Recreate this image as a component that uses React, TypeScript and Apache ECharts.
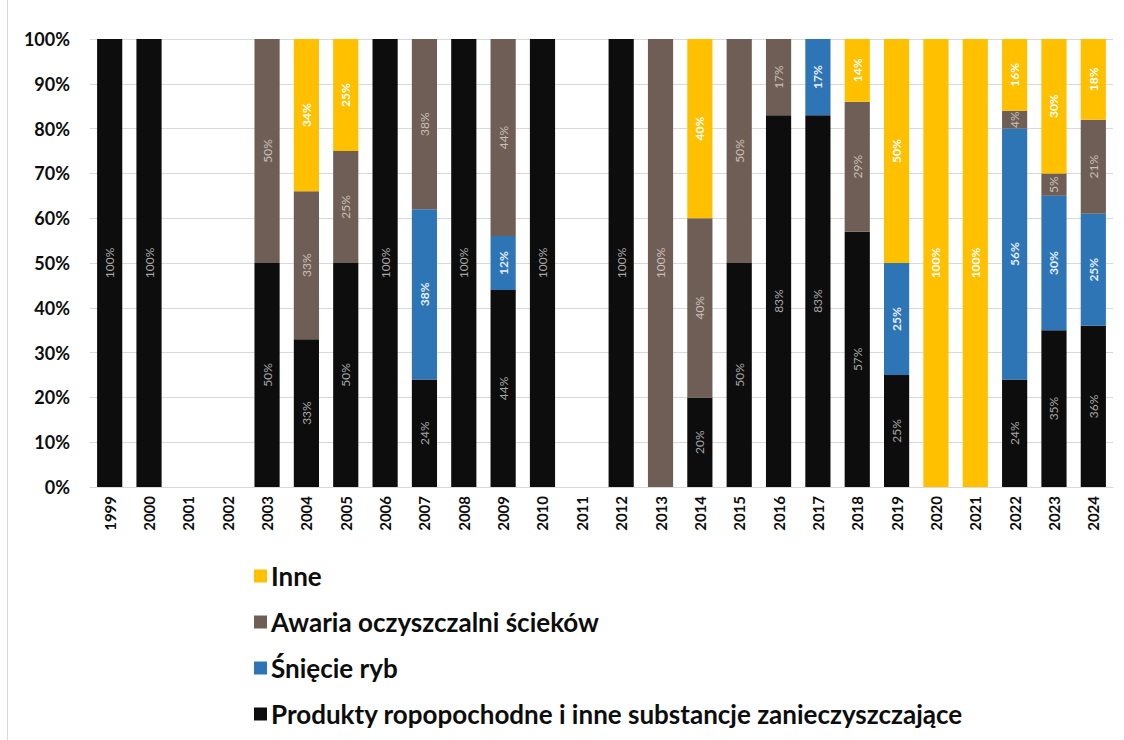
import React, { useEffect, useRef } from "react";
import * as echarts from "echarts";

const years = ["1999","2000","2001","2002","2003","2004","2005","2006","2007","2008","2009","2010","2011","2012","2013","2014","2015","2016","2017","2018","2019","2020","2021","2022","2023","2024"];
const produkty = [100,100,0,0,50,33,50,100,24,100,44,100,0,100,0,20,50,83,83,57,25,0,0,24,35,36];
const sniecie = [0,0,0,0,0,0,0,0,38,0,12,0,0,0,0,0,0,0,17,0,25,0,0,56,30,25];
const awaria = [0,0,0,0,50,33,25,0,38,0,44,0,0,0,100,40,50,17,0,29,0,0,0,4,5,21];
const inne = [0,0,0,0,0,34,25,0,0,0,0,0,0,0,0,40,0,0,0,14,50,100,100,16,30,18];

const FONT = "Lato";

export default function App() {
  const ref = useRef<HTMLDivElement>(null);
  useEffect(() => {
    if (!ref.current) return;
    const chart = echarts.init(ref.current, null, { renderer: "svg" });
    const mk = (name: string, data: number[], color: string, labelColor: string, weight: string) => ({
      name,
      type: "bar",
      stack: "total",
      barCategoryGap: "36%",
      data: data.map((v) => (v === 0 ? null : v)),
      itemStyle: { color },
      label: {
        show: true,
        position: "inside",
        rotate: 90,
        color: labelColor,
        fontFamily: FONT,
        fontWeight: weight,
        fontSize: 12,
        formatter: (p: any) => (p.value ? p.value + "%" : ""),
      },
    });
    chart.setOption({
      animation: false,
      grid: { left: 90, right: 11, top: 39, bottom: 253, containLabel: false },
      legend: {
        orient: "vertical",
        left: 249,
        top: 558,
        itemGap: 20,
        itemWidth: 13,
        itemHeight: 13,
        icon: "rect",
        data: ["Inne", "Awaria oczyszczalni ścieków", "Śnięcie ryb", "Produkty ropopochodne i inne substancje zanieczyszczające"],
        textStyle: { fontFamily: FONT, fontWeight: "bold", fontSize: 26, lineHeight: 26, color: "#0d0d0d", padding: [0, 0, 0, -1] },
      },
      xAxis: {
        type: "category",
        data: years,
        axisTick: { show: false },
        axisLine: { lineStyle: { color: "#d9d9d9" } },
        axisLabel: {
          rotate: 90,
          margin: 9,
          fontFamily: FONT,
          fontWeight: "bold",
          fontSize: 15,
          color: "#0d0d0d",
          interval: 0,
        },
      },
      yAxis: {
        type: "value",
        min: 0,
        max: 100,
        interval: 10,
        axisLine: { show: false },
        axisTick: { show: false },
        splitLine: { lineStyle: { color: "#d9d9d9", width: 1 } },
        axisLabel: {
          formatter: "{value}%",
          fontFamily: FONT,
          fontWeight: "bold",
          fontSize: 18,
          color: "#0d0d0d",
          margin: 20,
        },
      },
      graphic: [
        { type: "line", shape: { x1: 7.5, y1: 0, x2: 7.5, y2: 740 }, style: { stroke: "#d9d9d9", lineWidth: 1 } },
      ],
      series: [
        mk("Produkty ropopochodne i inne substancje zanieczyszczające", produkty, "#0d0d0d", "#a6a6a6", "normal"),
        mk("Śnięcie ryb", sniecie, "#2e75b6", "#e6eef8", "bold"),
        mk("Awaria oczyszczalni ścieków", awaria, "#6f5e55", "#c9bfb8", "normal"),
        mk("Inne", inne, "#ffc000", "#ffffff", "bold"),
      ],
    });
    return () => chart.dispose();
  }, []);
  return <div ref={ref} style={{ position: "absolute", left: 0, top: 0, width: 1124, height: 740, background: "#fff" }} />;
}
